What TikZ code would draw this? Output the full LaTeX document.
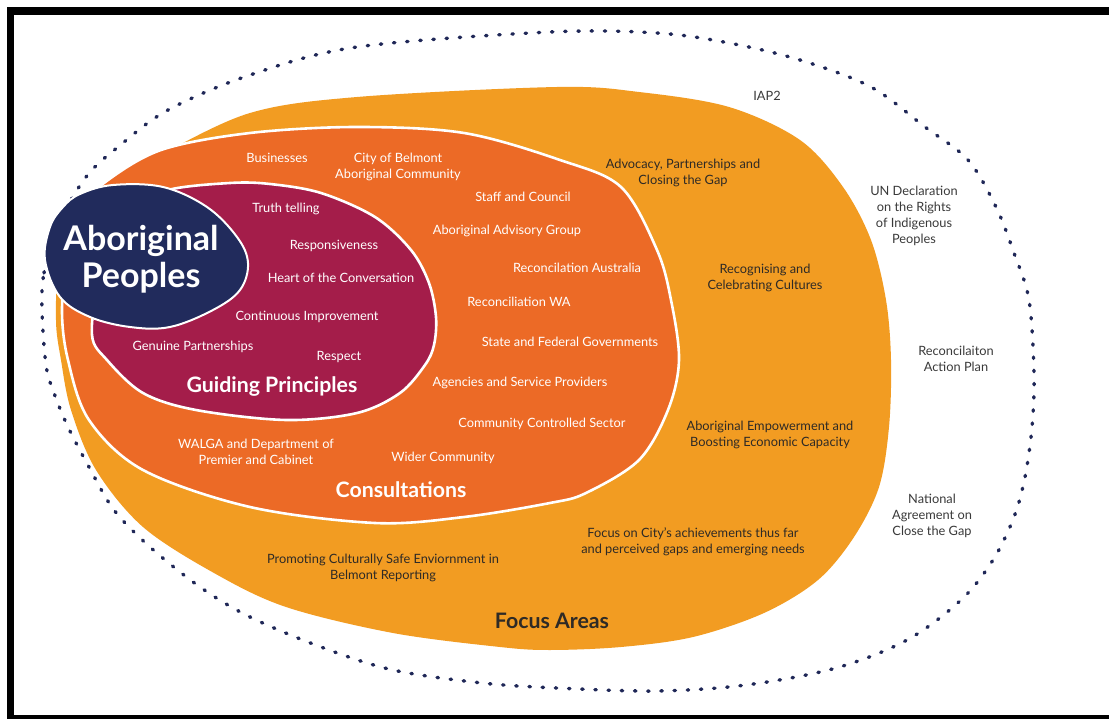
\documentclass[tikz,border=0pt]{standalone}
\usepackage{fontspec}
\setmainfont{Lato}
\definecolor{navy}{HTML}{212B5C}
\definecolor{dotnavy}{HTML}{1F2757}
\definecolor{crim}{HTML}{A41D4A}
\definecolor{dorange}{HTML}{EC6A26}
\definecolor{lorange}{HTML}{F29C22}
\definecolor{dktext}{HTML}{2E2A26}
\definecolor{grtext}{HTML}{3A3A3A}
\tikzset{
  lbl/.style={anchor=base, inner sep=0pt, align=center, font=\fontsize{12.8}{16}\selectfont},
  wt/.style={lbl, text=white},
  dk/.style={lbl, text=dktext},
  gr/.style={lbl, text=grtext},
  head/.style={anchor=base, inner sep=0pt, align=center, font=\fontsize{21.3}{24}\selectfont\bfseries},
  blob/.style={draw=white, line width=2.6pt},
}
\begin{document}
\begin{tikzpicture}[x=1pt,y=-1pt]
\useasboundingbox (0,0) rectangle (1109,719);
\fill[white] (0,0) rectangle (1109,719);
% frame
\fill[black] (7,7) rectangle (14,719);
\fill[black] (7,7) rectangle (1109,15);
\fill[black] (7,715) rectangle (1109,719);

% outer dotted boundary
\draw[dotnavy, line width=3.4pt, line cap=round, dash pattern=on 1.4pt off 11.8pt]
  plot[smooth cycle, tension=0.55] coordinates {
  (42,310) (44,273) (58,225) (86,177) (118,147) (168,110) (250,75) (357,47)
  (550,32) (657,33) (729,43) (800,60) (871,87) (925,127) (968,160) (996,207)
  (1014,253) (1029,300) (1034,373) (1032,427) (1025,477) (1014,517) (993,560)
  (961,600) (907,640) (836,668) (746,685) (657,691) (557,688) (482,683)
  (393,670) (321,647) (250,617) (200,587) (150,547) (114,510) (89,467)
  (68,427) (54,393) (46,365)};

% Focus areas (light orange)
\fill[lorange] plot[smooth cycle, tension=0.55] coordinates {
  (160,155) (250,113) (357,97) (557,87) (639,92) (729,107) (800,140) (843,187)
  (871,240) (886,300) (891,360) (889,427) (879,487) (854,537) (818,580)
  (764,613) (693,637) (621,647) (550,650) (500,647) (393,633) (286,607)
  (214,573) (143,527) (96,470) (71,410) (61,360) (56,320) (60,260) (85,205)
  (122,176)};

% Consultations (dark orange)
\filldraw[blob, fill=dorange] plot[smooth cycle, tension=0.55] coordinates {
  (104,183) (161,150) (250,133) (357,127) (464,133) (560,160) (621,187)
  (657,250) (671,300) (679,360) (668,410) (639,460) (586,493) (550,503)
  (464,517) (375,523) (250,507) (143,470) (89,420) (68,360) (62,310)
  (68,250) (80,210)};

% Guiding principles (crimson)
\filldraw[blob, fill=crim] plot[smooth cycle, tension=0.55] coordinates {
  (168,190) (230,183) (270,184) (321,193) (375,217) (411,250) (429,283)
  (436,317) (434,345) (425,365) (400,393) (357,413) (286,420) (196,410)
  (143,393) (107,360) (92,335) (100,280) (130,210)};

% Aboriginal Peoples (navy)
\filldraw[draw=white, line width=2pt, fill=navy] plot[smooth cycle, tension=0.6] coordinates {
  (45,260) (50,227) (63,207) (80,194) (113,185) (163,187) (207,207)
  (237,237) (248,263) (240,290) (213,310) (170,327) (130,327) (90,317)
  (60,297)};

% headings
\node[anchor=base, inner sep=0pt, align=center, text=white,
      font=\fontsize{34}{37}\selectfont\bfseries] (ab) at (141,288) {Aboriginal\\Peoples};
\node[head, text=white] (gp) at (272,392) {Guiding Principles};
\node[head, text=white] (con) at (401,497) {Consultations};
\node[head, text=dktext] (fa) at (552,628) {Focus Areas};

% consultations labels
\node[wt] (bus) at (277,162.5) {Businesses};
\node[wt] (cob) at (398,179) {City of Belmont\\Aboriginal Community};
\node[wt] (staff) at (523,201.5) {Staff and Council};
\node[wt] (aag) at (507,234.5) {Aboriginal Advisory Group};
\node[wt] (ra) at (577,272.5) {Reconcilation Australia};
\node[wt] (rwa) at (519,306.5) {Reconciliation WA};
\node[wt] (sfg) at (570,346.5) {State and Federal Governments};
\node[wt] (asp) at (520,386.5) {Agencies and Service Providers};
\node[wt] (ccs) at (542,427.5) {Community Controlled Sector};
\node[wt] (walga) at (256,464.5) {WALGA and Department of\\Premier and Cabinet};
\node[wt] (wider) at (443,461.5) {Wider Community};

% guiding principles labels
\node[wt] (truth) at (286,212.5) {Truth telling};
\node[wt] (resp) at (334,249.5) {Responsiveness};
\node[wt] (heart) at (341,282.5) {Heart of the Conversation};
\node[wt] (cont) at (307,320.5) {Continuous Improvement};
\node[wt] (gen) at (193,350.5) {Genuine Partnerships};
\node[wt] (respect) at (339,360.5) {Respect};

% focus area labels
\node[dk] (adv) at (683,184.5) {Advocacy, Partnerships and\\Closing the Gap};
\node[dk] (rec) at (765,289.5) {Recognising and\\Celebrating Cultures};
\node[dk] (emp) at (770,446.5) {Aboriginal Empowerment and\\Boosting Economic Capacity};
\node[dk] (city) at (693,553.5) {Focus on City’s achievements thus far\\and perceived gaps and emerging needs};
\node[dk] (prom) at (383,579.5) {Promoting Culturally Safe Enviornment in\\Belmont Reporting};

% outside labels
\node[gr] (iap) at (767,100.5) {IAP2};
\node[gr] (un) at (914,243.5) {UN Declaration\\on the Rights\\of Indigenous\\Peoples};
\node[gr] (rap) at (956,371.5) {Reconcilaiton\\Action Plan};
\node[gr] (nat) at (932,535.5) {National\\Agreement on\\Close the Gap};
\end{tikzpicture}
\end{document}
